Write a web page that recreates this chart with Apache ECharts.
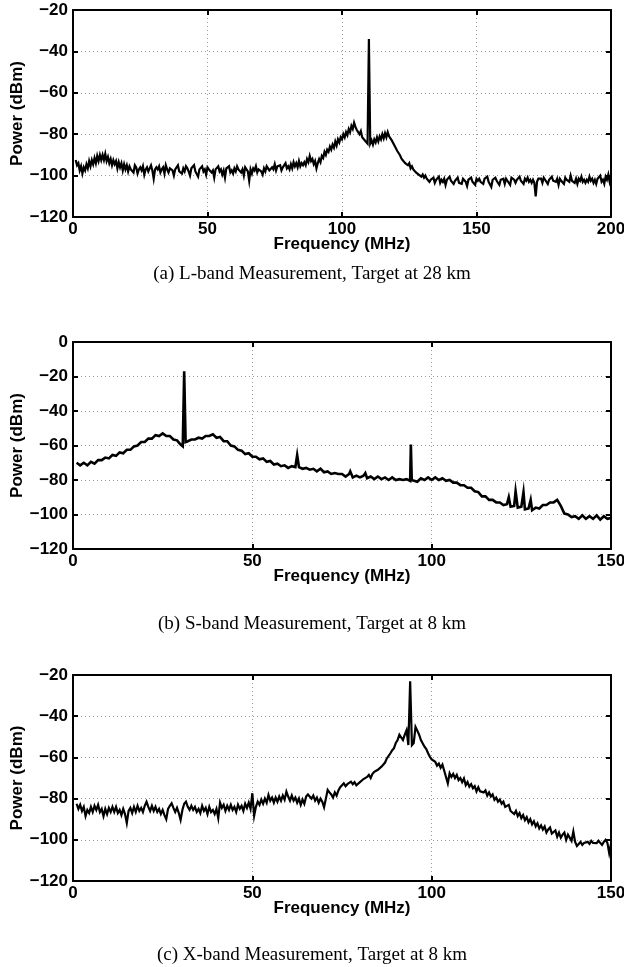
<!DOCTYPE html>
<html>
<head>
<meta charset="utf-8">
<script src="https://cdn.jsdelivr.net/npm/echarts@6/dist/echarts.min.js"></script>
<style>
html,body{margin:0;padding:0;background:#fff;}
#chart{width:624px;height:967px;}
</style>
</head>
<body>
<div id="chart"></div>
<script>
// ---------- (a) L-band: 0.5 MHz steps from 1 to 200 MHz ----------
const startA = 1, stepA = 0.5;
const powerA = [
  -92.5, -95, -94, -97.5, -95.5, -99, -96, -97.5, -94.5, -96.5, -93, -95.5, -92.5, -94.5, -91.5, -94, -90.5, -93, -90, -92.5,
  -90, -92.5, -89.5, -93, -91, -94, -92, -95, -92.5, -94.5, -93, -96.5, -93.5, -96, -94, -97.5, -94.5, -97, -95, -98,
  -95.5, -97, -96.5, -98.5, -95, -96, -99, -97, -96, -97.5, -95.5, -99.5, -97, -96, -98, -96.5, -95, -97.5, -101.5, -97,
  -96, -97, -95.5, -98.5, -97, -96, -99, -95, -97, -98.5, -96.5, -96, -97.5, -100, -97, -96.5, -95, -98, -97.5, -99,
  -96.5, -98, -95.5, -96.5, -98, -100, -96.5, -97, -95, -98, -97.5, -100.5, -97, -96.5, -95.5, -98, -97, -99.5, -96, -97,
  -96.5, -98.5, -97.5, -101, -97, -96.5, -95.5, -98, -97, -99.5, -97.5, -101, -96.5, -97, -95.5, -98.5, -97.5, -99, -96.5, -98,
  -95.5, -97, -96.5, -98.5, -97, -100, -96, -97, -98, -102.5, -97, -99, -96.5, -97.5, -95.5, -98.5, -97, -96.5, -98, -99.5,
  -96.5, -98, -95.5, -96, -97.5, -98, -96, -97, -94.5, -97.5, -95.5, -96, -95, -97.5, -96, -95.5, -94, -96.5, -95.5, -97,
  -94.5, -96.5, -93.5, -95.5, -94, -96, -93, -95.5, -94, -95, -93.5, -95, -92, -93.5, -90.5, -93, -92, -94.5, -93, -96.5,
  -94, -92, -93.5, -90.5, -91.5, -88.5, -90, -87.5, -88.5, -86, -87.5, -85, -86.5, -83.5, -85.5, -82.5, -84, -81.5, -82.5, -80,
  -81.5, -79, -80.5, -77.5, -79, -76, -77.5, -74.5, -76.5, -78, -77.5, -80, -78.5, -81.5, -81, -83, -82.5, -84.5, -84, -84.5,
  -83, -85, -82.5, -84, -81.5, -83.5, -81, -82.5, -80, -82, -79.5, -81.5, -79, -81, -80.5, -83, -83, -85.5, -85.5, -88,
  -88.5, -90, -91.5, -92.5, -92, -94, -93.5, -95, -94, -96.5, -95.5, -97, -96.5, -98.5, -98, -99.5, -99, -100.5, -99.5, -101,
  -100, -101.5, -101, -103, -102, -102.5, -101, -103.5, -102, -101.5, -100.5, -103.5, -102, -103, -101.5, -104.5, -102, -101.5, -100.5, -102.5,
  -102, -104, -102.5, -102, -101, -103.5, -103, -104, -101.5, -102, -103, -105, -102, -102.5, -101, -103, -103.5, -104.5, -101.5, -102.5,
  -101.5, -103, -102.5, -104, -101.5, -102, -100.5, -103, -103, -105.5, -102, -102.5, -101, -102.5, -103.5, -104.5, -102, -102.5, -101.5, -104,
  -101.5, -102.5, -102.5, -104.5, -101, -101.5, -102, -103.5, -102, -102.5, -100.5, -102.5, -102, -104, -101.5, -102.5, -101, -103, -102, -103.5,
  -102, -103.5, -110, -103, -101.5, -102, -101.5, -103.5, -101, -102, -102, -104, -102, -102.5, -100.5, -102.5, -102, -103, -101.5, -104.5,
  -101.5, -102.5, -102, -104, -101, -102, -101.5, -103, -100, -102.5, -102, -103.5, -101.5, -104, -101.5, -102.5, -100.5, -103, -102, -103.5,
  -102, -103, -100.5, -102.5, -101.5, -103.5, -102, -104, -101.5, -102, -100, -103, -102, -104, -100.5, -102, -99.5, -103, -100.5
];
const spikesA = [[110, -34]];

// ---------- (b) S-band: 1 MHz steps from 1 to 150 MHz ----------
const startB = 1, stepB = 1;
const powerB = [
  -70, -71.5, -70, -71.5, -69.5, -70.5, -68.5, -68.5, -67, -67.5,
  -65.5, -66, -64, -64.5, -62.5, -62.5, -60.5, -60, -58, -58,
  -56, -56, -54, -54.5, -53, -54.5, -54.5, -56.5, -57, -59.5,
  -59, -57.5, -56.5, -56.5, -55.5, -56, -54.5, -54.5, -53.5, -55.5,
  -55, -57.5, -57.5, -60, -60.5, -62.5, -63, -65, -64.5, -66.5,
  -66.5, -68, -67.5, -69.5, -69, -71, -70.5, -72, -71.5, -73,
  -72, -72.5, -72.5, -73.5, -73, -74, -73.5, -75, -73.5, -75.5,
  -75, -76.5, -76, -76.5, -76.5, -78, -76.5, -78.5, -77.5, -78.5,
  -77.5, -79, -78, -79.5, -78, -79.5, -78.5, -80, -78.5, -80,
  -79.5, -80, -79.5, -80.5, -79, -81, -79, -80, -78.5, -80,
  -78.5, -80, -79, -80.5, -80, -81.5, -81.5, -83, -83, -84.5,
  -84.5, -86.5, -87, -89.5, -89.5, -91.5, -91.5, -93, -93, -94.5,
  -94, -95.5, -95, -96, -95.5, -97, -96.5, -97.5, -96, -96.5,
  -94.5, -94.5, -93, -93, -91.5, -95, -99.5, -100, -101.5, -101,
  -102.5, -100.5, -102.5, -101, -102.5, -100.5, -103, -101, -102.5, -102
];
const spikesB = [[30.6, -60.5], [31, -17], [31.4, -58], [62.5, -65.5], [77.3, -75],
  [81.5, -76], [94.2, -59.5], [94.45, -80], [121.5, -90], [123.4, -86.5],
  [125.6, -87], [127.6, -91.5]];

// ---------- (c) X-band: 0.5 MHz steps from 1 to 150 MHz ----------
const startC = 1, stepC = 0.5;
const powerC = [
  -82.5, -85, -83, -86, -84, -88.5, -85.5, -87, -84, -86.5, -83.5, -85.5, -83, -86.5, -85, -88.5, -85, -87.5, -84.5, -86.5,
  -84, -86.5, -84, -87, -85.5, -88, -85, -87.5, -91.9, -86, -84.5, -87, -84, -86.5, -83.5, -86, -84.5, -86.5, -83.5, -81.5,
  -84, -86, -83.5, -86, -84, -86.5, -85, -87.5, -85.5, -88, -90, -85, -83.5, -82.3, -84.5, -86.5, -84.5, -87, -90.3, -85.5,
  -82.5, -81.5, -84, -85.5, -83.5, -85.5, -84, -86.5, -85, -87, -83.5, -86, -84.5, -87.5, -84, -86.5, -85.5, -87.5, -85, -89.5,
  -82, -84.5, -83, -86, -83.5, -85.5, -83, -85.5, -84, -86.5, -83, -85, -83.5, -86, -82.5, -84.5, -82, -85, -77.4, -88.4,
  -84, -81.5, -83, -80.5, -82.5, -80, -82, -78.2, -81, -79.5, -82, -79.5, -81.5, -79, -81, -78.5, -80.5, -76.6, -79, -81,
  -78.5, -81, -79.5, -82, -80, -83, -80.5, -82.5, -79, -78, -77.4, -80, -78.5, -81, -79.5, -82, -80, -81.5, -84.2, -80,
  -75.8, -77, -78, -79.5, -77, -78.5, -76, -74.5, -74, -72.6, -74, -73, -72.5, -71.8, -73, -72, -73.5, -73.4, -72, -71.5,
  -70.5, -71, -69.5, -68.5, -70, -68, -67, -67.5, -66, -65.5, -64.5, -65, -62.5, -60.5, -61, -58, -56.5, -55.5, -53, -51.6,
  -49, -48.4, -51.6, -49, -46.8, -54, -53, -54, -53, -45.2, -47, -49, -51.6, -52, -54.8, -56, -58, -59.7, -61, -61.5,
  -62.1, -64, -63, -65, -63.5, -66.5, -66, -72.6, -67.7, -69.5, -68, -70, -68.5, -71, -70, -72, -70.2, -73.5, -72, -74.2,
  -73, -75, -74, -76.5, -74.5, -76.5, -75.8, -77, -76, -78.5, -77, -79, -78, -80.6, -79.5, -81.5, -80.5, -82.5, -81.5, -84,
  -84.7, -83, -86, -85.5, -87.5, -86, -88.5, -87, -89.5, -88, -90.5, -89, -91.5, -90, -92.5, -91, -93.5, -92, -94.5, -93,
  -95, -93.5, -96.5, -95, -94, -97, -97.5, -95.5, -98.5, -96.5, -99, -97.5, -96.5, -100, -97.5, -98, -100.5, -96, -101, -103,
  -102, -101, -102.5, -101.5, -102.4, -101, -102, -100.5, -101.5, -102, -101.6, -100.5, -101, -102.5, -101, -100, -101.5, -106.5, -102
];
const spikesC = [[94, -23]];

// axis ticks
const xMaxA = 200, xMaxBC = 150, xInterval = 50;
const yRangeA = [-120, -20], yRangeB = [-120, 0], yRangeC = [-120, -20], yInterval = 20;
const captions = [
  '(a) L-band Measurement, Target at 28 km',
  '(b) S-band Measurement, Target at 8 km',
  '(c) X-band Measurement, Target at 8 km'
];
const xName = 'Frequency (MHz)', yName = 'Power (dBm)';

function buildSeries(start, step, values, spikes) {
  const pts = values.map((v, i) => [+(start + i * step).toFixed(3), v]);
  spikes.forEach(s => {
    const idx = pts.findIndex(p => Math.abs(p[0] - s[0]) < 1e-6);
    if (idx >= 0) pts[idx] = [s[0], s[1]];
    else pts.push([s[0], s[1]]);
  });
  pts.sort((a, b) => a[0] - b[0]);
  return pts;
}

const FONT = '"Liberation Sans", Arial, Helvetica, sans-serif';
const grids = [
  {left: 73, top: 10, width: 538, height: 207, outerBoundsMode: 'none', containLabel: false},
  {left: 73, top: 342, width: 538, height: 207, outerBoundsMode: 'none', containLabel: false},
  {left: 73, top: 675, width: 538, height: 206, outerBoundsMode: 'none', containLabel: false}
];
const xMaxes = [xMaxA, xMaxBC, xMaxBC];
const yRanges = [yRangeA, yRangeB, yRangeC];
const datas = [
  buildSeries(startA, stepA, powerA, spikesA),
  buildSeries(startB, stepB, powerB, spikesB),
  buildSeries(startC, stepC, powerC, spikesC)
];
const lineWidths = [2.2, 2.6, 2.2];

const lineStyleAxis = {color: '#000', width: 2};
const boldText = {fontFamily: FONT, fontWeight: 'bold', fontSize: 17, color: '#000'};
const xAxes = [], yAxes = [], series = [];
grids.forEach((g, i) => {
  xAxes.push({
    type: 'value', gridIndex: i, min: 0, max: xMaxes[i], interval: xInterval,
    position: 'bottom',
    name: xName, nameLocation: 'middle', nameGap: 19, nameMoveOverlap: false,
    nameTextStyle: boldText,
    axisLine: {show: true, onZero: false, lineStyle: lineStyleAxis},
    axisTick: {show: true, inside: true, length: 5, lineStyle: lineStyleAxis},
    axisLabel: Object.assign({margin: 4}, boldText),
    splitLine: {show: true, lineStyle: {color: '#9a9a9a', width: 1, type: [1, 3]}}
  });
  xAxes.push({
    type: 'value', gridIndex: i, min: 0, max: xMaxes[i], interval: xInterval,
    position: 'top',
    axisLine: {show: true, onZero: false, lineStyle: lineStyleAxis},
    axisTick: {show: true, inside: true, length: 5, lineStyle: lineStyleAxis},
    axisLabel: {show: false}, splitLine: {show: false}
  });
  yAxes.push({
    type: 'value', gridIndex: i, min: yRanges[i][0], max: yRanges[i][1], interval: yInterval,
    position: 'left',
    name: yName, nameLocation: 'middle', nameGap: 47, nameRotate: 90, nameMoveOverlap: false,
    nameTextStyle: boldText,
    axisLine: {show: true, onZero: false, lineStyle: lineStyleAxis},
    axisTick: {show: true, inside: true, length: 5, lineStyle: lineStyleAxis},
    axisLabel: Object.assign({margin: 5, formatter: v => String(v).replace('-', '\u2212')}, boldText),
    splitLine: {show: true, lineStyle: {color: '#9a9a9a', width: 1, type: [1, 3]}}
  });
  yAxes.push({
    type: 'value', gridIndex: i, min: yRanges[i][0], max: yRanges[i][1], interval: yInterval,
    position: 'right',
    axisLine: {show: true, onZero: false, lineStyle: lineStyleAxis},
    axisTick: {show: true, inside: true, length: 5, lineStyle: lineStyleAxis},
    axisLabel: {show: false}, splitLine: {show: false}
  });
  series.push({
    type: 'line', xAxisIndex: i * 2, yAxisIndex: i * 2, data: datas[i],
    showSymbol: false, symbol: 'none', clip: true,
    lineStyle: {color: '#000', width: lineWidths[i], join: 'miter'}, silent: true
  });
});

const titles = captions.map((t, i) => ({
  text: t, left: 'center', top: [260, 610, 941][i],
  textStyle: {fontFamily: '"Liberation Serif", "Times New Roman", serif', fontWeight: 'normal', fontSize: 19, color: '#000'}
}));

const chart = echarts.init(document.getElementById('chart'), null, {renderer: 'canvas'});
chart.setOption({
  animation: false,
  backgroundColor: '#fff',
  title: titles,
  grid: grids,
  xAxis: xAxes,
  yAxis: yAxes,
  series: series
});
</script>
</body>
</html>
